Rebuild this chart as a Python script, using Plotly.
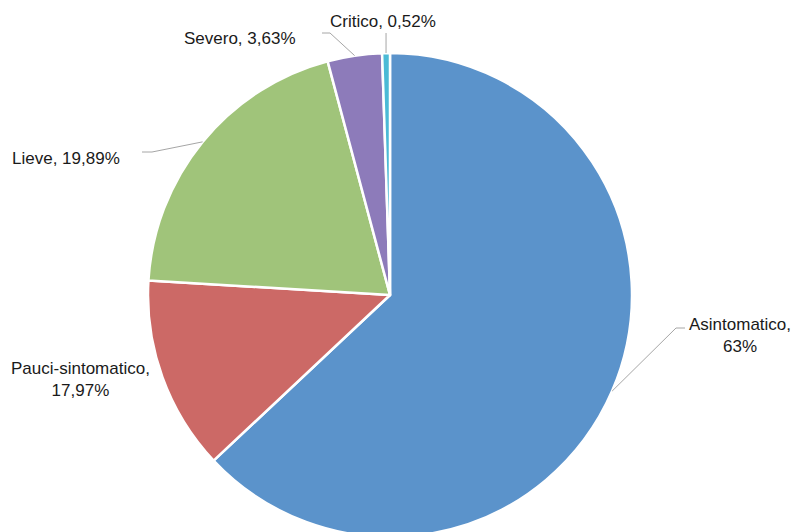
import math
import plotly.graph_objects as go

# ---- data ----
categories = ["Asintomatico", "Pauci-sintomatico", "Lieve", "Severo", "Critico"]
slice_values = [63.0, 12.96, 19.89, 3.63, 0.52]          # slice sizes as drawn
label_texts = ["Asintomatico,<br>63%", "Pauci-sintomatico,<br>17,97%",
               "Lieve, 19,89%", "Severo, 3,63%", "Critico, 0,52%"]
colors = ["#5B93CB", "#CC6966", "#A0C47A", "#8D7BBA", "#4BBAD6"]

# ---- layout geometry (pixels) ----
W, H = 792, 537
ML, MR, MT, MB = 148, 160, 53, 0
PW, PH = W - ML - MR, H - MT - MB


def to_paper(px, py):
    return (px - ML) / PW, (H - MB - py) / PH


# label centres (px) and leader-line elbows (px), None = no leader
label_pos = [(740, 335), (80, 379), (66, 158), (239.5, 39), (382.5, 21)]
elbows = [[(676, 328), (685, 328)], None, [(152, 152), (142, 152)],
          [(330, 33), (322, 33)], ["vert", 33]]

fig = go.Figure(go.Pie(
    labels=categories, values=slice_values, sort=False, direction="clockwise",
    rotation=0, textinfo="none", hoverinfo="label+value",
    marker=dict(colors=colors, line=dict(color="white", width=2.5)),
    domain=dict(x=[0, 1], y=[0, 1]), showlegend=False,
))

total = sum(slice_values)
cum = 0.0
shapes = []
annotations = []
for i, v in enumerate(slice_values):
    mid = (cum + v / 2) / total * 2 * math.pi
    cum += v
    ex, ey = 0.5 + 0.5 * math.sin(mid), 0.5 + 0.5 * math.cos(mid)
    e = elbows[i]
    if e is not None:
        if e[0] == "vert":
            pts = [(ex, ey), (ex, to_paper(0, e[1])[1])]
        else:
            pts = [(ex, ey)] + [to_paper(*p) for p in e]
        for (x0, y0), (x1, y1) in zip(pts[:-1], pts[1:]):
            shapes.append(dict(type="line", xref="paper", yref="paper",
                               x0=x0, y0=y0, x1=x1, y1=y1,
                               line=dict(color="#A6A6A6", width=1)))
    lx, ly = to_paper(*label_pos[i])
    annotations.append(dict(text=label_texts[i], x=lx, y=ly, xref="paper", yref="paper",
                            xanchor="center", yanchor="middle", showarrow=False,
                            align="center",
                            font=dict(family="Liberation Sans, Arial, sans-serif",
                                      size=17, color="#1A1A1A")))

fig.update_layout(
    width=W, height=H, margin=dict(l=ML, r=MR, t=MT, b=MB),
    paper_bgcolor="white", plot_bgcolor="white",
    shapes=shapes, annotations=annotations,
)

fig.write_html("out.html",
               post_script="document.documentElement.style.overflow='hidden';document.body.style.overflow='hidden';")
